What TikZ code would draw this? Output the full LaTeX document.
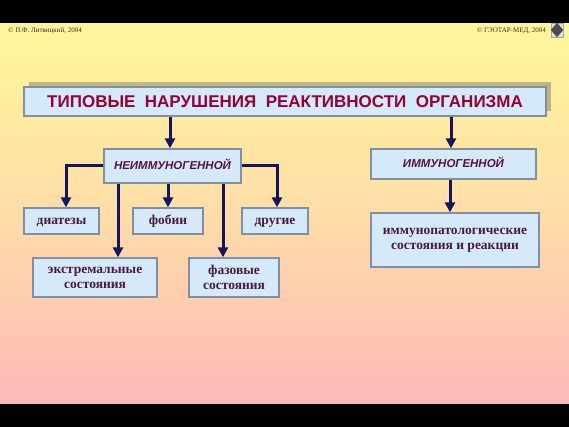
\documentclass[tikz,border=0pt]{standalone}
\usepackage{fontspec}
\setmainfont{Liberation Serif}
\newfontfamily\sansf{Liberation Sans}
\usetikzlibrary{arrows.meta,calc}
\definecolor{bgtop}{HTML}{FFF799}
\definecolor{bgmid}{HTML}{FFDDA8}
\definecolor{bgbot}{HTML}{FFB8B8}
\definecolor{boxfill}{HTML}{D4E9F9}
\definecolor{boxline}{HTML}{7F8FA6}
\definecolor{arrowc}{HTML}{15155E}
\definecolor{titlec}{HTML}{990033}
\definecolor{subc}{HTML}{5A1040}
\definecolor{txtc}{HTML}{4A1A3A}
\tikzset{
  box/.style={draw=boxline, line width=1.3pt, fill=boxfill, inner sep=0pt, align=center, text=txtc, font=\bfseries\fontsize{13.5}{15}\selectfont},
  onebox/.style={draw=boxline, line width=1.3pt, fill=boxfill, inner sep=0pt, text=txtc, font=\bfseries\fontsize{13.5}{15}\selectfont, text height=9.2pt, text depth=3pt},
  subbox/.style={onebox, text=subc, font=\sansf\bfseries\itshape\fontsize{11.5}{13}\selectfont, text height=8.6pt, text depth=0.6pt},
  conn/.style={draw=arrowc, line width=3pt, -{Triangle[width=10pt,length=10pt]}},
  hdr/.style={font=\fontsize{7}{8}\selectfont, text=black!80, inner sep=0pt}
}
\begin{document}
\begin{tikzpicture}[x=1pt,y=-1pt]
\useasboundingbox (0,0) rectangle (569,427);
% background
\shade[top color=bgtop, bottom color=bgbot, middle color=bgmid] (0,23) rectangle (569,404);
\fill[black] (0,0) rectangle (569,23);
\fill[black] (0,404) rectangle (569,427);
% header
\node[hdr, anchor=west] (hl) at (8,31) {© П.Ф. Литвицкий, 2004};
\node[hdr, anchor=east] (hr) at (546,31) {© ГЭОТАР-МЕД, 2004};
\node[draw=gray!70, fill=gray!25, minimum width=12pt, minimum height=14pt, inner sep=0pt] (ic) at (557,30) {};
\fill[black!70] (ic.north) -- (ic.east) -- (ic.south) -- (ic.west) -- cycle;
% title shadow
\fill[gray!60!black, opacity=0.35] (29,82) rectangle (551,111);
\node[onebox, minimum width=522pt, minimum height=29pt, text=titlec, font=\sansf\bfseries\fontsize{17}{19}\selectfont, text height=12.2pt, text depth=0pt] (title) at (285,101.5) {ТИПОВЫЕ\ \ НАРУШЕНИЯ\ \ РЕАКТИВНОСТИ\ \ ОРГАНИЗМА};
% nodes
\node[subbox, minimum width=137pt, minimum height=34pt] (neimm) at (172.5,166) {НЕИММУНОГЕННОЙ};
\node[subbox, minimum width=165pt, minimum height=30pt] (imm) at (453.5,164) {ИММУНОГЕННОЙ};
\node[onebox, minimum width=75pt, minimum height=26pt] (diat) at (61.5,221) {диатезы};
\node[onebox, minimum width=70pt, minimum height=26pt] (phob) at (168,221) {фобии};
\node[onebox, minimum width=66pt, minimum height=26pt] (other) at (275,221) {другие};
\node[box, minimum width=124pt, minimum height=39pt] (extr) at (95,277.5) {экстремальные\\состояния};
\node[box, minimum width=90pt, minimum height=39pt] (phase) at (234,277.5) {фазовые\\состояния};
\node[box, minimum width=168pt, minimum height=54pt] (ipat) at (455,240) {иммунопатологические\\состояния и реакции};
% helper coordinates
\coordinate (c0) at (170,0);
\coordinate (c1) at (118,0);
\coordinate (c2) at (223,0);
\coordinate (c3) at (66,0);
\coordinate (c4) at (277,0);
\coordinate (c5) at (451,0);
\coordinate (c6) at (450,0);
% connectors
\draw[conn] (title.south -| c0) -- (neimm.north -| c0);
\draw[conn] (title.south -| c5) -- (imm.north -| c5);
\draw[conn] (neimm.west) -| (diat.north -| c3);
\draw[conn] (neimm.east) -| (other.north -| c4);
\draw[conn] (neimm.south -| phob.north) -- (phob.north);
\draw[conn] (neimm.south -| c1) -- (extr.north -| c1);
\draw[conn] (neimm.south -| c2) -- (phase.north -| c2);
\draw[conn] (imm.south -| c6) -- (ipat.north -| c6);
\end{tikzpicture}
\end{document}
